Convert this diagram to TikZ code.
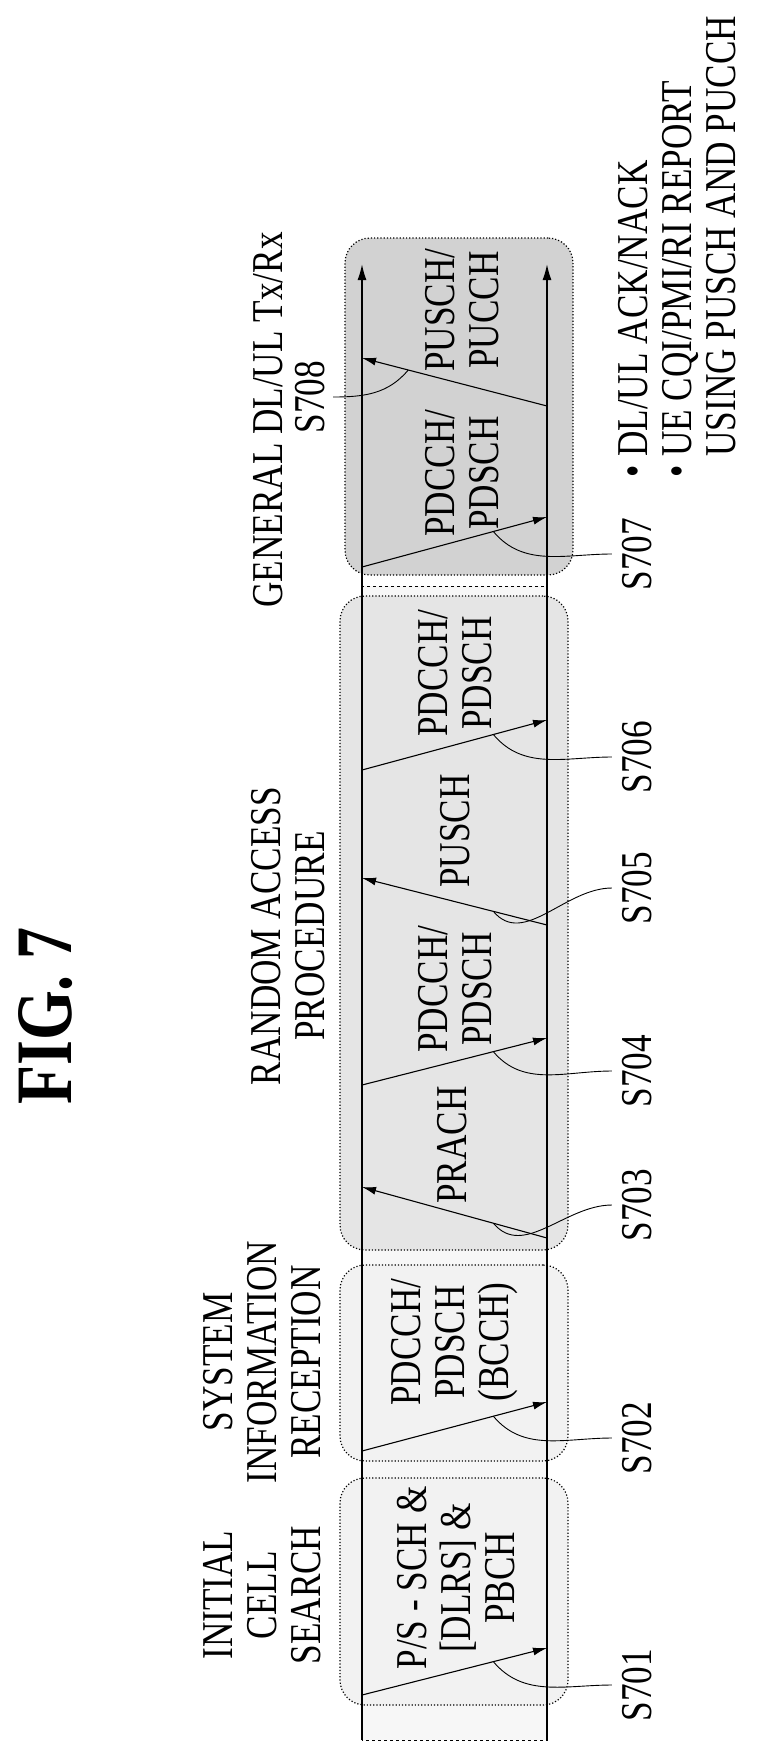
\documentclass[tikz,border=0pt]{standalone}
\usepackage{fontspec}
\setmainfont{Liberation Serif}[FakeStretch=0.8]
\usetikzlibrary{arrows.meta,calc}
\tikzset{
txt/.style={rotate=90, align=center, inner sep=0pt, font=\fontsize{44}{44}\selectfont},
phase/.style={draw, dotted, line width=1.2pt, rounded corners=25pt, inner sep=0pt},
axis/.style={draw, line width=1.6pt, -{Latex[length=16pt,width=9pt]}},
line/.style={draw, line width=1.1pt, -{Latex[length=14pt,width=8pt]}},
lead/.style={draw, line width=0.9pt}
}

\begin{document}
\begin{tikzpicture}[x=1pt, y=-1pt]
    \useasboundingbox (0,0) rectangle (764,1762);
    % Phases
    \draw [dashed, line width=1pt, fill=gray!6] (362,586) rectangle (547,1740);
    \node [phase, fill=gray!10, minimum width=228, minimum height=227] (search) at (454,1591.5) {};
    \node [phase, fill=gray!10, minimum width=228, minimum height=196] (sysinfo) at (454,1363) {};
    \node [phase, fill=gray!20, minimum width=228, minimum height=654] (random) at (454,923) {};
    \node [phase, fill=gray!35, minimum width=228, minimum height=337] (general) at (459,406.5) {};
    % Time axes
    \coordinate (Lb) at (362,1740);
    \coordinate (Lt) at (362,264);
    \coordinate (Rb) at (547,1740);
    \coordinate (Rt) at (547,264);
    \path [axis] (Lb) -- (Lt);
    \path [axis] (Rb) -- (Rt);
    \foreach \n/\l/\r in {1/1695/1648, 2/1451/1402, 3/1187/1238, 4/1085/1038,
                          5/878/925, 6/770/720, 7/567/517, 8/358/406} {
        \coordinate (l\n) at (362,\l);
        \coordinate (r\n) at (547,\r);
    }
    % Signals
    \path [line] (l1) -- (r1);
    \path [line] (l2) -- (r2);
    \path [line] (r3) -- (l3);
    \path [line] (l4) -- (r4);
    \path [line] (r5) -- (l5);
    \path [line] (l6) -- (r6);
    \path [line] (l7) -- (r7);
    \path [line] (r8) -- (l8);
    % Headings
    \node [txt, font=\fontsize{80}{80}\selectfont\bfseries] (fig) at (46,1016) {FIG. 7};
    \node [txt] (searchtitle) at (262,1595) {INITIAL\\CELL\\SEARCH};
    \node [txt] (sysinfotitle) at (262,1362) {SYSTEM\\INFORMATION\\RECEPTION};
    \node [txt] (randomtitle) at (288,936) {RANDOM ACCESS\\PROCEDURE};
    \node [txt] (generaltitle) at (268,420) {GENERAL DL/UL Tx/Rx};
    % Channels
    \node [txt] (pbch) at (456,1578) {P/S - SCH \&\\{}[DLRS] \&\\PBCH};
    \node [txt] (bcch) at (455,1342) {PDCCH/\\PDSCH\\(BCCH)};
    \node [txt] (prach) at (452,1145) {PRACH};
    \node [txt] (rar) at (455,989) {PDCCH/\\PDSCH};
    \node [txt] (msg3) at (455,831) {PUSCH};
    \node [txt] (msg4) at (455,673) {PDCCH/\\PDSCH};
    \node [txt] (dldata) at (462,473) {PDCCH/\\PDSCH};
    \node [txt] (uldata) at (462,310) {PUSCH/\\PUCCH};
    % Step labels
    \node [txt] (s701) at (637,1685) {S701};
    \node [txt] (s702) at (637,1438) {S702};
    \node [txt] (s703) at (637,1205) {S703};
    \node [txt] (s704) at (637,1071) {S704};
    \node [txt] (s705) at (637,888) {S705};
    \node [txt] (s706) at (637,757) {S706};
    \node [txt] (s707) at (637,554) {S707};
    \node [txt] (s708) at (310,397) {S708};
    \node [txt, align=left, anchor=north west] (report) at (618,478)
        {\textbullet\ DL/UL ACK/NACK\\\textbullet\ UE CQI/PMI/RI REPORT\\\phantom{\textbullet\ }USING PUSCH AND PUCCH};
    % Leaders
    \path [lead] ([xshift=-10pt]s701.north) to[out=180,in=-50] ($(l1)!0.71!(r1)$);
    \path [lead] ([xshift=-10pt]s702.north) to[out=180,in=-50] ($(l2)!0.71!(r2)$);
    \path [lead] ([xshift=-10pt]s703.north) to[out=180,in=-50] ($(l3)!0.71!(r3)$);
    \path [lead] ([xshift=-10pt]s704.north) to[out=180,in=-50] ($(l4)!0.71!(r4)$);
    \path [lead] ([xshift=-10pt]s705.north) to[out=180,in=-50] ($(l5)!0.71!(r5)$);
    \path [lead] ([xshift=-10pt]s706.north) to[out=180,in=-50] ($(l6)!0.71!(r6)$);
    \path [lead] ([xshift=-10pt]s707.north) to[out=180,in=-50] ($(l7)!0.71!(r7)$);
    \path [lead] ([xshift=8pt]s708.south) to[out=0,in=-130] ($(l8)!0.25!(r8)$);
\end{tikzpicture}
\end{document}
